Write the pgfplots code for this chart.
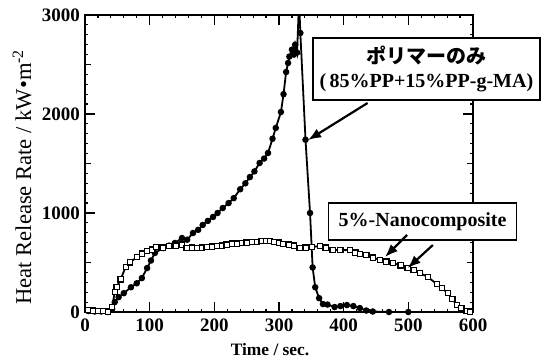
\documentclass[border=0pt]{standalone}
\usepackage{pgfplots}
\pgfplotsset{compat=1.18}
\usepackage{fontspec}
\setmainfont{Liberation Serif}
\newfontfamily\jp{Noto Sans CJK JP}
\usetikzlibrary{arrows.meta}
\begin{document}
\begin{tikzpicture}
\begin{axis}[
 scale only axis, width=194pt, height=148.5pt,
 xmin=0, xmax=600, ymin=0, ymax=3000,
 xtick={0,100,...,600}, ytick={0,1000,2000,3000},
 minor x tick num=4, minor y tick num=9,
 extra y ticks={500,1500,2500}, extra y tick labels={},
 extra y tick style={major tick length=3pt},
 tick align=inside, major tick length=5pt, minor tick length=1.5pt,
 axis line style={line width=1pt},
 every tick/.style={black, line width=0.6pt},
 tick label style={font=\fontsize{9.5}{10}\selectfont\bfseries},
 /pgf/number format/assume math mode=true,
 scaled y ticks=false,
 yticklabel style={/pgf/number format/1000 sep={}, xshift=1pt},
 xlabel={Time / sec.},
 xlabel style={font=\bfseries\fontsize{8.7}{10}\selectfont, at={(axis description cs:0.477,-0.128)}, anchor=center},
 ylabel={Heat Release Rate / kW\textbullet m\textsuperscript{-2}},
 ylabel style={font=\fontsize{11.3}{12}\selectfont, at={(axis description cs:-0.162,0.455)}, anchor=center},
 clip mode=individual,
]
% polymer only (filled circles)
\addplot[black, line width=0.9pt, mark=*, mark size=1.15pt] coordinates {
(5,10)(15,5)(25,5)(35,0)(42,30)(46,100)(52,150)(60,190)(71,250)(80,290)(88,343)(96,444)(102,520)(108,596)(121,646)(130,670)(139,697)(150,747)(158,730)(167,798)(175,830)(182,879)(190,920)(198,960)(205,1000)(213,1050)(222,1100)(230,1150)(240,1240)(248,1300)(255,1363)(262,1420)(270,1505)(277,1550)(283,1606)(290,1750)(295,1859)(303,2020)(307,2200)(311,2424)(314,2515)(316,2580)(320,2650)(323,2600)(325,2700)(328,2620)(331,3150)(333,2818)(341,1740)(348,1000)(352,450)(356,250)(362,140)(368,80)(375,75)(386,50)(395,60)(405,70)(415,60)(425,40)(435,15)(445,5)(470,0)(500,0)
};
% 5% nanocomposite (open squares)
\addplot[black, line width=0.9pt, mark=square*, mark size=1.3pt, mark options={fill=white, line width=0.6pt}] coordinates {
(5,20)(12,15)(20,10)(28,10)(36,5)(42,50)(46,202)(49,250)(55,330)(63,455)(70,500)(80,556)(88,590)(96,615)(104,630)(110,656)(120,650)(130,665)(140,670)(150,680)(157,646)(165,650)(173,646)(181,650)(188,655)(196,660)(204,665)(212,670)(219,680)(227,690)(235,690)(243,695)(250,700)(258,705)(266,710)(273,715)(280,718)(286,717)(293,705)(300,700)(306,687)(315,680)(323,670)(332,646)(341,650)(351,656)(363,667)(372,650)(383,626)(395,625)(410,626)(418,600)(425,586)(435,575)(445,550)(456,525)(466,510)(476,495)(488,470)(499,444)(508,425)(518,394)(530,354)(544,283)(552,240)(561,192)(568,130)(575,71)(582,40)(590,10)(595,5)
};
\node[draw, line width=0.7pt, fill=white, minimum width=113.5pt, minimum height=31pt, align=center, inner sep=1pt, font=\fontsize{10}{11.75}\selectfont] at (axis cs:528,2455) {{\jp\bfseries ポリマーのみ}\\{\bfseries (\,85\%PP+15\%PP-g-MA)}};
\node[draw, line width=0.7pt, fill=white, minimum width=94pt, minimum height=18.5pt, inner sep=1pt, font=\bfseries\fontsize{10}{12}\selectfont] at (axis cs:522,914) {5\%-Nanocomposite};
\draw[-{Latex[length=6.5pt,width=5pt]}, line width=1.1pt] (axis cs:437,2111) -- (axis cs:345,1737);
\draw[-{Latex[length=6.5pt,width=5pt]}, line width=1.1pt] (axis cs:498,778) -- (axis cs:464,556);
\draw[-{Latex[length=6.5pt,width=5pt]}, line width=1.1pt] (axis cs:538,677) -- (axis cs:499,444);
\end{axis}
\pgfresetboundingbox
\path ([shift={(-42.5pt,-24.5pt)}]current axis.south west) rectangle ([shift={(36.5pt,7.5pt)}]current axis.north east);
\end{tikzpicture}
\end{document}
